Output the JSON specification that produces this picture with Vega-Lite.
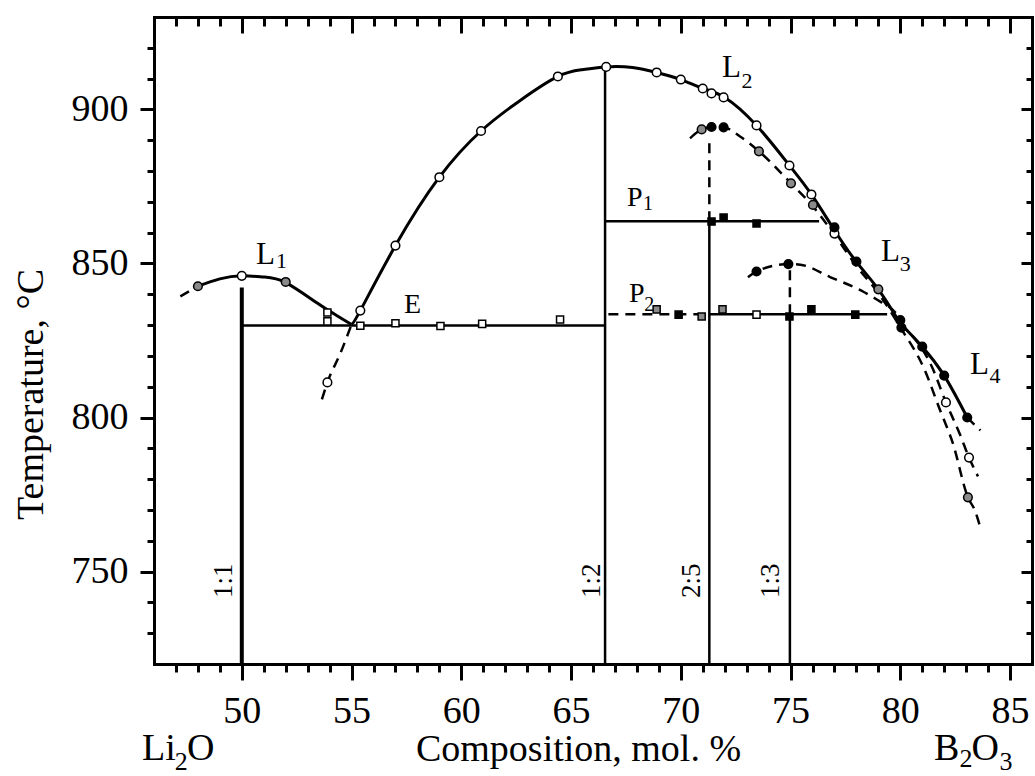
{
  "$schema": "https://vega.github.io/schema/vega-lite/v6.json",
  "width": 878,
  "height": 647,
  "autosize": {"type": "none"},
  "padding": {"left": 154, "top": 17, "right": 3, "bottom": 112},
  "background": "white",
  "config": {
    "view": {"stroke": null},
    "font": "Liberation Serif",
    "axis": {
      "grid": false,
      "domainColor": "black",
      "tickColor": "black",
      "labelColor": "black",
      "titleColor": "black",
      "labelFont": "Liberation Serif",
      "titleFont": "Liberation Serif",
      "titleFontWeight": "normal",
      "labelFlush": false,
      "labelOverlap": false,
      "domainCap": "square",
      "tickWidth": 3
    }
  },
  "datasets": {
    "segments": [
      {"seg": "1:1", "status": "stable", "x1": 50.0, "x2": 50.0, "t1": 720, "t2": 842.2},
      {"seg": "1:2", "status": "stable", "x1": 66.55, "x2": 66.55, "t1": 720, "t2": 913.8},
      {"seg": "2:5", "status": "stable", "x1": 71.3, "x2": 71.3, "t1": 720, "t2": 863.7},
      {"seg": "2:5m", "status": "metastable", "x1": 71.3, "x2": 71.3, "t1": 863.7, "t2": 891.0},
      {"seg": "1:3", "status": "stable", "x1": 74.97, "x2": 74.97, "t1": 720, "t2": 833.5},
      {"seg": "1:3m", "status": "metastable", "x1": 74.97, "x2": 74.97, "t1": 833.5, "t2": 848.0},
      {"seg": "E", "status": "stable", "x1": 50.0, "x2": 66.55, "t1": 829.9, "t2": 829.9},
      {"seg": "P1", "status": "stable", "x1": 66.55, "x2": 76.3, "t1": 863.7, "t2": 863.7},
      {"seg": "P2m", "status": "metastable", "x1": 66.7, "x2": 71.3, "t1": 833.5, "t2": 833.5},
      {"seg": "P2", "status": "stable", "x1": 71.3, "x2": 79.4, "t1": 833.5, "t2": 833.5}
    ],
    "curves": [
      {"curve": "L1m", "status": "metastable", "x": 47.2, "T": 839.3},
      {"curve": "L1m", "status": "metastable", "x": 48.0, "T": 842.6},
      {"curve": "L1", "status": "stable", "x": 48.0, "T": 842.6},
      {"curve": "L1", "status": "stable", "x": 49.0, "T": 845.0},
      {"curve": "L1", "status": "stable", "x": 50.0, "T": 846.0},
      {"curve": "L1", "status": "stable", "x": 51.0, "T": 845.6},
      {"curve": "L1", "status": "stable", "x": 52.0, "T": 843.8},
      {"curve": "L1", "status": "stable", "x": 53.4, "T": 837.3},
      {"curve": "L1", "status": "stable", "x": 54.3, "T": 833.2},
      {"curve": "L1", "status": "stable", "x": 55.0, "T": 830.2},
      {"curve": "L2low", "status": "metastable", "x": 53.65, "T": 805.9},
      {"curve": "L2low", "status": "metastable", "x": 53.9, "T": 811.4},
      {"curve": "L2low", "status": "metastable", "x": 54.5, "T": 821.0},
      {"curve": "L2low", "status": "metastable", "x": 55.0, "T": 830.2},
      {"curve": "L2", "status": "stable", "x": 55.0, "T": 830.2},
      {"curve": "L2", "status": "stable", "x": 55.4, "T": 834.7},
      {"curve": "L2", "status": "stable", "x": 57.0, "T": 855.8},
      {"curve": "L2", "status": "stable", "x": 59.0, "T": 878.0},
      {"curve": "L2", "status": "stable", "x": 60.9, "T": 893.0},
      {"curve": "L2", "status": "stable", "x": 62.7, "T": 903.0},
      {"curve": "L2", "status": "stable", "x": 64.4, "T": 910.7},
      {"curve": "L2", "status": "stable", "x": 65.5, "T": 912.9},
      {"curve": "L2", "status": "stable", "x": 66.6, "T": 913.8},
      {"curve": "L2", "status": "stable", "x": 67.8, "T": 913.6},
      {"curve": "L2", "status": "stable", "x": 68.9, "T": 912.0},
      {"curve": "L2", "status": "stable", "x": 70.0, "T": 909.7},
      {"curve": "L2", "status": "stable", "x": 71.0, "T": 906.8},
      {"curve": "L2", "status": "stable", "x": 72.0, "T": 903.9},
      {"curve": "L2", "status": "stable", "x": 73.45, "T": 894.8},
      {"curve": "L2", "status": "stable", "x": 74.95, "T": 881.8},
      {"curve": "L2", "status": "stable", "x": 75.95, "T": 872.4},
      {"curve": "L2", "status": "stable", "x": 77.0, "T": 860.8},
      {"curve": "L2", "status": "stable", "x": 78.0, "T": 850.5},
      {"curve": "L2", "status": "stable", "x": 79.0, "T": 841.6},
      {"curve": "L2", "status": "stable", "x": 80.0, "T": 830.5},
      {"curve": "L4", "status": "stable", "x": 80.0, "T": 830.5},
      {"curve": "L4", "status": "stable", "x": 81.0, "T": 823.0},
      {"curve": "L4", "status": "stable", "x": 82.0, "T": 813.6},
      {"curve": "L4", "status": "stable", "x": 83.05, "T": 800.0},
      {"curve": "L4m", "status": "metastable", "x": 83.05, "T": 800.0},
      {"curve": "L4m", "status": "metastable", "x": 83.65, "T": 795.8},
      {"curve": "L2ext", "status": "metastable", "x": 80.0, "T": 830.5},
      {"curve": "L2ext", "status": "metastable", "x": 81.45, "T": 816.3},
      {"curve": "L2ext", "status": "metastable", "x": 82.08, "T": 804.9},
      {"curve": "L2ext", "status": "metastable", "x": 82.72, "T": 794.5},
      {"curve": "L2ext", "status": "metastable", "x": 83.13, "T": 787.0},
      {"curve": "L2ext", "status": "metastable", "x": 83.54, "T": 780.9},
      {"curve": "L3", "status": "metastable", "x": 70.42, "T": 890.6},
      {"curve": "L3", "status": "metastable", "x": 70.95, "T": 893.5},
      {"curve": "L3", "status": "metastable", "x": 71.4, "T": 894.3},
      {"curve": "L3", "status": "metastable", "x": 71.95, "T": 894.2},
      {"curve": "L3", "status": "metastable", "x": 72.7, "T": 891.2},
      {"curve": "L3", "status": "metastable", "x": 73.56, "T": 886.4},
      {"curve": "L3", "status": "metastable", "x": 75.02, "T": 876.0},
      {"curve": "L3", "status": "metastable", "x": 76.02, "T": 868.5},
      {"curve": "L3", "status": "metastable", "x": 77.0, "T": 859.3},
      {"curve": "L3", "status": "metastable", "x": 78.0, "T": 849.2},
      {"curve": "L3", "status": "metastable", "x": 79.0, "T": 840.4},
      {"curve": "L3", "status": "metastable", "x": 80.0, "T": 829.3},
      {"curve": "L3", "status": "metastable", "x": 81.1, "T": 815.6},
      {"curve": "L3", "status": "metastable", "x": 81.8, "T": 802.6},
      {"curve": "L3", "status": "metastable", "x": 82.4, "T": 791.5},
      {"curve": "L3", "status": "metastable", "x": 83.08, "T": 774.1},
      {"curve": "L3", "status": "metastable", "x": 83.4, "T": 769.8},
      {"curve": "L3", "status": "metastable", "x": 83.63, "T": 764.7},
      {"curve": "L13", "status": "metastable", "x": 73.06, "T": 845.5},
      {"curve": "L13", "status": "metastable", "x": 73.45, "T": 847.4},
      {"curve": "L13", "status": "metastable", "x": 74.9, "T": 849.8},
      {"curve": "L13", "status": "metastable", "x": 75.45, "T": 849.6},
      {"curve": "L13", "status": "metastable", "x": 76.8, "T": 845.6},
      {"curve": "L13", "status": "metastable", "x": 78.3, "T": 840.9},
      {"curve": "L13", "status": "metastable", "x": 79.07, "T": 837.7},
      {"curve": "L13", "status": "metastable", "x": 79.53, "T": 835.7},
      {"curve": "L13", "status": "metastable", "x": 79.85, "T": 833.5}
    ],
    "points": [
      {"shape": "circle", "fill": "open", "x": 50.0, "T": 846.0},
      {"shape": "circle", "fill": "open", "x": 53.9, "T": 811.4},
      {"shape": "circle", "fill": "open", "x": 55.4, "T": 834.7},
      {"shape": "circle", "fill": "open", "x": 57.0, "T": 855.8},
      {"shape": "circle", "fill": "open", "x": 59.0, "T": 878.0},
      {"shape": "circle", "fill": "open", "x": 60.9, "T": 893.0},
      {"shape": "circle", "fill": "open", "x": 64.4, "T": 910.7},
      {"shape": "circle", "fill": "open", "x": 66.6, "T": 913.8},
      {"shape": "circle", "fill": "open", "x": 68.9, "T": 912.0},
      {"shape": "circle", "fill": "open", "x": 70.0, "T": 909.7},
      {"shape": "circle", "fill": "open", "x": 71.0, "T": 906.8},
      {"shape": "circle", "fill": "open", "x": 71.4, "T": 905.2},
      {"shape": "circle", "fill": "open", "x": 71.95, "T": 903.9},
      {"shape": "circle", "fill": "open", "x": 73.45, "T": 894.8},
      {"shape": "circle", "fill": "open", "x": 74.95, "T": 881.8},
      {"shape": "circle", "fill": "open", "x": 75.95, "T": 872.4},
      {"shape": "circle", "fill": "open", "x": 77.0, "T": 859.7},
      {"shape": "circle", "fill": "open", "x": 82.08, "T": 804.9},
      {"shape": "circle", "fill": "open", "x": 83.13, "T": 787.0},
      {"shape": "circle", "fill": "gray", "x": 48.0, "T": 842.6},
      {"shape": "circle", "fill": "gray", "x": 52.0, "T": 844.0},
      {"shape": "circle", "fill": "gray", "x": 70.95, "T": 893.5},
      {"shape": "circle", "fill": "gray", "x": 73.56, "T": 886.4},
      {"shape": "circle", "fill": "gray", "x": 75.02, "T": 876.0},
      {"shape": "circle", "fill": "gray", "x": 76.02, "T": 869.0},
      {"shape": "circle", "fill": "gray", "x": 79.0, "T": 841.6},
      {"shape": "circle", "fill": "gray", "x": 83.08, "T": 774.1},
      {"shape": "circle", "fill": "filled", "x": 71.4, "T": 894.3},
      {"shape": "circle", "fill": "filled", "x": 71.95, "T": 894.2},
      {"shape": "circle", "fill": "filled", "x": 77.0, "T": 861.7},
      {"shape": "circle", "fill": "filled", "x": 78.0, "T": 850.6},
      {"shape": "circle", "fill": "filled", "x": 80.0, "T": 831.6},
      {"shape": "circle", "fill": "filled", "x": 80.05, "T": 829.2},
      {"shape": "circle", "fill": "filled", "x": 81.0, "T": 823.0},
      {"shape": "circle", "fill": "filled", "x": 82.0, "T": 813.6},
      {"shape": "circle", "fill": "filled", "x": 83.05, "T": 800.0},
      {"shape": "circle", "fill": "filled", "x": 73.45, "T": 847.4},
      {"shape": "circle", "fill": "filled", "x": 74.9, "T": 849.8},
      {"shape": "square", "fill": "open", "x": 53.9, "T": 834.1},
      {"shape": "square", "fill": "open", "x": 53.9, "T": 831.2},
      {"shape": "square", "fill": "open", "x": 55.4, "T": 829.8},
      {"shape": "square", "fill": "open", "x": 57.0, "T": 830.6},
      {"shape": "square", "fill": "open", "x": 59.05, "T": 829.7},
      {"shape": "square", "fill": "open", "x": 60.95, "T": 830.4},
      {"shape": "square", "fill": "open", "x": 64.5, "T": 831.8},
      {"shape": "square", "fill": "open", "x": 73.45, "T": 833.4},
      {"shape": "square", "fill": "gray", "x": 68.9, "T": 835.1},
      {"shape": "square", "fill": "gray", "x": 70.95, "T": 832.8},
      {"shape": "square", "fill": "gray", "x": 71.9, "T": 835.1},
      {"shape": "square", "fill": "filled", "x": 69.9, "T": 833.4},
      {"shape": "square", "fill": "filled", "x": 74.95, "T": 832.8},
      {"shape": "square", "fill": "filled", "x": 75.95, "T": 835.1},
      {"shape": "square", "fill": "filled", "x": 77.95, "T": 833.4},
      {"shape": "square", "fill": "filled", "x": 71.4, "T": 863.6},
      {"shape": "square", "fill": "filled", "x": 71.95, "T": 864.9},
      {"shape": "square", "fill": "filled", "x": 73.45, "T": 863.0}
    ],
    "labels": [
      {"role": "main", "text": "L", "x": 50.65, "T": 849.7},
      {"role": "sub", "text": "1", "x": 51.56, "T": 848.5},
      {"role": "p", "text": "E", "x": 57.39, "T": 833.8},
      {"role": "main", "text": "L", "x": 71.88, "T": 910.4},
      {"role": "sub", "text": "2", "x": 72.76, "T": 907.1},
      {"role": "p", "text": "P", "x": 67.55, "T": 868.6},
      {"role": "psub", "text": "1", "x": 68.28, "T": 867.2},
      {"role": "p", "text": "P", "x": 67.64, "T": 837.4},
      {"role": "psub", "text": "2", "x": 68.33, "T": 834.5},
      {"role": "main", "text": "L", "x": 79.12, "T": 850.7},
      {"role": "sub", "text": "3", "x": 79.98, "T": 847.4},
      {"role": "main", "text": "L", "x": 83.18, "T": 814.0},
      {"role": "sub", "text": "4", "x": 84.06, "T": 811.1},
      {"role": "big", "text": "Li", "x": 45.45, "T": 688.7},
      {"role": "bigsub", "text": "2", "x": 46.95, "T": 685.6},
      {"role": "big", "text": "O", "x": 47.5, "T": 688.7},
      {"role": "big", "text": "B", "x": 81.54, "T": 689.0},
      {"role": "bigsub", "text": "2", "x": 82.7, "T": 686.6},
      {"role": "big", "text": "O", "x": 83.24, "T": 689.0},
      {"role": "bigsub", "text": "3", "x": 84.52, "T": 685.6},
      {"role": "rot", "text": "1:1", "x": 49.17, "T": 747},
      {"role": "rot", "text": "1:2", "x": 65.95, "T": 747},
      {"role": "rot", "text": "2:5", "x": 70.51, "T": 747},
      {"role": "rot", "text": "1:3", "x": 74.11, "T": 747}
    ]
  },
  "layer": [
    {
      "data": {"name": "segments"},
      "transform": [{"filter": "datum.status === 'stable' && datum.seg !== '1:1'"}],
      "mark": {"type": "rule", "color": "black", "strokeWidth": 2.5},
      "encoding": {
        "x": {"field": "x1", "type": "quantitative", "scale": {"domain": [46, 86], "nice": false, "zero": false},
          "axis": {"orient": "bottom", "values": [50, 55, 60, 65, 70, 75, 80, 85], "tickSize": 16, "domainWidth": 3,
            "labelFontSize": 38, "labelPadding": 12, "title": "Composition, mol. %", "titleFontSize": 38,
            "titleX": 424, "titleY": 96, "titleAlign": "center", "titleBaseline": "alphabetic"}},
        "x2": {"field": "x2"},
        "y": {"field": "t1", "type": "quantitative", "scale": {"domain": [720, 930], "nice": false, "zero": false},
          "axis": {"orient": "left", "values": [750, 800, 850, 900], "tickSize": 14, "domainWidth": 3,
            "labelFontSize": 38, "labelPadding": 12, "title": "Temperature, °C", "titleFontSize": 38,
            "titleX": -112, "titleY": 377, "titleAlign": "center", "titleBaseline": "alphabetic", "titleAngle": 270}},
        "y2": {"field": "t2"}
      }
    },
    {
      "data": {"name": "segments"},
      "transform": [{"filter": "datum.seg === '1:1'"}],
      "mark": {"type": "rule", "color": "black", "strokeWidth": 4},
      "encoding": {
        "x": {"field": "x1", "type": "quantitative", "scale": {"domain": [46, 86], "nice": false, "zero": false},
          "axis": {"orient": "bottom", "values": [47, 48, 49, 51, 52, 53, 54, 56, 57, 58, 59, 61, 62, 63, 64, 66, 67, 68, 69, 71, 72, 73, 74, 76, 77, 78, 79, 81, 82, 83, 84],
            "tickSize": 8, "domain": false, "labels": false, "title": null}},
        "x2": {"field": "x2"},
        "y": {"field": "t1", "type": "quantitative", "scale": {"domain": [720, 930], "nice": false, "zero": false},
          "axis": {"orient": "left", "values": [730, 740, 760, 770, 780, 790, 810, 820, 830, 840, 860, 870, 880, 890, 910, 920],
            "tickSize": 7, "domain": false, "labels": false, "title": null}},
        "y2": {"field": "t2"}
      }
    },
    {
      "data": {"name": "segments"},
      "transform": [{"filter": "datum.status === 'metastable'"}],
      "mark": {"type": "rule", "color": "black", "strokeWidth": 2.5, "strokeDash": [10, 7]},
      "encoding": {
        "x": {"field": "x1", "type": "quantitative", "scale": {"domain": [46, 86], "nice": false, "zero": false},
          "axis": {"orient": "top", "values": [50, 55, 60, 65, 70, 75, 80, 85], "tickSize": -16, "domainWidth": 3, "labels": false, "title": null}},
        "x2": {"field": "x2"},
        "y": {"field": "t1", "type": "quantitative", "scale": {"domain": [720, 930], "nice": false, "zero": false},
          "axis": {"orient": "right", "values": [750, 800, 850, 900], "tickSize": -11, "domainWidth": 3, "labels": false, "title": null}},
        "y2": {"field": "t2"}
      }
    },
    {
      "data": {"name": "curves"},
      "transform": [{"filter": "datum.status === 'stable'"}],
      "mark": {"type": "line", "color": "black", "strokeWidth": 3, "interpolate": "natural"},
      "encoding": {
        "x": {"field": "x", "type": "quantitative", "scale": {"domain": [46, 86], "nice": false, "zero": false},
          "axis": {"orient": "top", "values": [47, 48, 49, 51, 52, 53, 54, 56, 57, 58, 59, 61, 62, 63, 64, 66, 67, 68, 69, 71, 72, 73, 74, 76, 77, 78, 79, 81, 82, 83, 84],
            "tickSize": -9, "domain": false, "labels": false, "title": null}},
        "y": {"field": "T", "type": "quantitative", "scale": {"domain": [720, 930], "nice": false, "zero": false},
          "axis": {"orient": "right", "values": [730, 740, 760, 770, 780, 790, 810, 820, 830, 840, 860, 870, 880, 890, 910, 920],
            "tickSize": -6, "domain": false, "labels": false, "title": null}},
        "detail": {"field": "curve"}
      }
    },
    {
      "data": {"name": "curves"},
      "transform": [{"filter": "datum.status === 'metastable'"}],
      "mark": {"type": "line", "color": "black", "strokeWidth": 2.5, "strokeDash": [10, 7], "interpolate": "monotone"},
      "encoding": {
        "x": {"field": "x", "type": "quantitative", "axis": null},
        "y": {"field": "T", "type": "quantitative", "axis": null},
        "detail": {"field": "curve"}
      }
    },
    {
      "data": {"name": "points"},
      "transform": [{"filter": "datum.shape === 'circle'"}],
      "mark": {"type": "point", "shape": "circle", "size": 75, "filled": true, "stroke": "black", "strokeWidth": 1.5, "opacity": 1},
      "encoding": {
        "x": {"field": "x", "type": "quantitative", "axis": null},
        "y": {"field": "T", "type": "quantitative", "axis": null},
        "fill": {"field": "fill", "type": "nominal", "scale": {"domain": ["open", "gray", "filled"], "range": ["white", "#8a8a8a", "black"]}, "legend": null}
      }
    },
    {
      "data": {"name": "points"},
      "transform": [{"filter": "datum.shape === 'square'"}],
      "mark": {"type": "point", "shape": "square", "size": 50, "filled": true, "stroke": "black", "strokeWidth": 1.5, "opacity": 1},
      "encoding": {
        "x": {"field": "x", "type": "quantitative", "axis": null},
        "y": {"field": "T", "type": "quantitative", "axis": null},
        "fill": {"field": "fill", "type": "nominal", "scale": {"domain": ["open", "gray", "filled"], "range": ["white", "#8a8a8a", "black"]}, "legend": null}
      }
    },
    {
      "data": {"name": "labels"},
      "transform": [{"filter": "datum.role === 'main'"}],
      "mark": {"type": "text", "font": "Liberation Serif", "fontSize": 31, "align": "left", "baseline": "alphabetic", "color": "black"},
      "encoding": {
        "x": {"field": "x", "type": "quantitative", "axis": null},
        "y": {"field": "T", "type": "quantitative", "axis": null},
        "text": {"field": "text"}
      }
    },
    {
      "data": {"name": "labels"},
      "transform": [{"filter": "datum.role === 'sub'"}],
      "mark": {"type": "text", "font": "Liberation Serif", "fontSize": 22, "align": "left", "baseline": "alphabetic", "color": "black"},
      "encoding": {
        "x": {"field": "x", "type": "quantitative", "axis": null},
        "y": {"field": "T", "type": "quantitative", "axis": null},
        "text": {"field": "text"}
      }
    },
    {
      "data": {"name": "labels"},
      "transform": [{"filter": "datum.role === 'p'"}],
      "mark": {"type": "text", "font": "Liberation Serif", "fontSize": 28, "align": "left", "baseline": "alphabetic", "color": "black"},
      "encoding": {
        "x": {"field": "x", "type": "quantitative", "axis": null},
        "y": {"field": "T", "type": "quantitative", "axis": null},
        "text": {"field": "text"}
      }
    },
    {
      "data": {"name": "labels"},
      "transform": [{"filter": "datum.role === 'psub'"}],
      "mark": {"type": "text", "font": "Liberation Serif", "fontSize": 20, "align": "left", "baseline": "alphabetic", "color": "black"},
      "encoding": {
        "x": {"field": "x", "type": "quantitative", "axis": null},
        "y": {"field": "T", "type": "quantitative", "axis": null},
        "text": {"field": "text"}
      }
    },
    {
      "data": {"name": "labels"},
      "transform": [{"filter": "datum.role === 'big'"}],
      "mark": {"type": "text", "font": "Liberation Serif", "fontSize": 38, "align": "left", "baseline": "alphabetic", "color": "black"},
      "encoding": {
        "x": {"field": "x", "type": "quantitative", "axis": null},
        "y": {"field": "T", "type": "quantitative", "axis": null},
        "text": {"field": "text"}
      }
    },
    {
      "data": {"name": "labels"},
      "transform": [{"filter": "datum.role === 'bigsub'"}],
      "mark": {"type": "text", "font": "Liberation Serif", "fontSize": 26, "align": "left", "baseline": "alphabetic", "color": "black"},
      "encoding": {
        "x": {"field": "x", "type": "quantitative", "axis": null},
        "y": {"field": "T", "type": "quantitative", "axis": null},
        "text": {"field": "text"}
      }
    },
    {
      "data": {"name": "labels"},
      "transform": [{"filter": "datum.role === 'rot'"}],
      "mark": {"type": "text", "font": "Liberation Serif", "fontSize": 27, "align": "center", "baseline": "middle", "angle": 270, "color": "black"},
      "encoding": {
        "x": {"field": "x", "type": "quantitative", "axis": null},
        "y": {"field": "T", "type": "quantitative", "axis": null},
        "text": {"field": "text"}
      }
    }
  ],
  "resolve": {"axis": {"x": "independent", "y": "independent"}}
}
